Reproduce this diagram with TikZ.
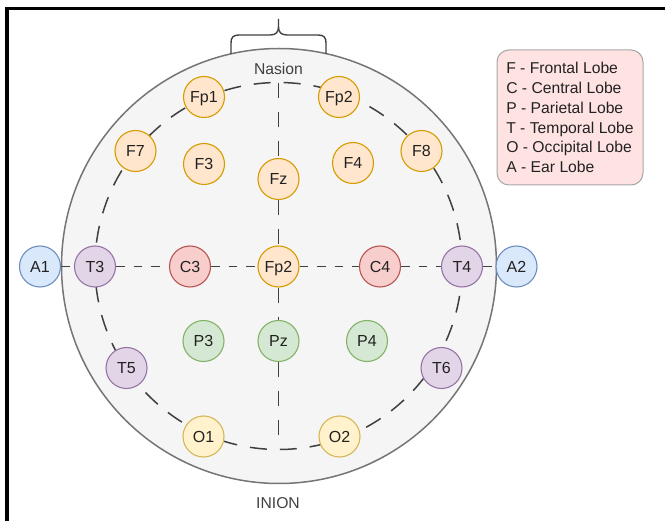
\documentclass[tikz,border=0pt]{standalone}
\usepackage{fontspec}
\setmainfont{Liberation Sans}
\usetikzlibrary{backgrounds}

\definecolor{txt}{HTML}{222222}
\definecolor{headfill}{HTML}{F5F5F5}
\definecolor{headdraw}{HTML}{757575}
\definecolor{guidecol}{HTML}{404040}
\definecolor{frfill}{HTML}{FFE6CC}\definecolor{frdraw}{HTML}{D79B00}
\definecolor{cefill}{HTML}{F8CECC}\definecolor{cedraw}{HTML}{B85450}
\definecolor{pafill}{HTML}{D5E8D4}\definecolor{padraw}{HTML}{82B366}
\definecolor{tefill}{HTML}{E1D5E7}\definecolor{tedraw}{HTML}{9673A6}
\definecolor{ocfill}{HTML}{FFF2CC}\definecolor{ocdraw}{HTML}{D6B656}
\definecolor{eafill}{HTML}{DAE8FC}\definecolor{eadraw}{HTML}{6C8EBF}
\definecolor{legfill}{HTML}{FFE3E3}\definecolor{legdraw}{HTML}{A6A6A6}

\begin{document}
\begin{tikzpicture}[x=1pt,y=-1pt,
  electrode/.style={circle, minimum size=41pt, inner sep=0pt, line width=1.1pt,
    font=\fontsize{16}{18}\selectfont, text=txt, text height=11.5pt, text depth=0pt},
  frontal/.style={electrode, fill=frfill, draw=frdraw},
  central/.style={electrode, fill=cefill, draw=cedraw},
  parietal/.style={electrode, fill=pafill, draw=padraw},
  temporal/.style={electrode, fill=tefill, draw=tedraw},
  occipital/.style={electrode, fill=ocfill, draw=ocdraw},
  ear/.style={electrode, fill=eafill, draw=eadraw},
  guide/.style={draw=guidecol, line width=1.5pt},
  hline/.style={guide, dash pattern=on 8.5pt off 9pt},
  vline/.style={guide, dash pattern=on 15pt off 14pt},
  ringline/.style={guide, dash pattern=on 17pt off 13pt},
  caption/.style={font=\fontsize{15.7}{18}\selectfont, text=guidecol},
]
\useasboundingbox (0,0) rectangle (665,521);

% frame edges
\draw[line width=3.5pt, line join=miter] (7,523) -- (7,8.3) -- (667,8.3);

% electrodes
\node[frontal]   (Fp1) at (204,97)    {Fp1};
\node[frontal]   (Fp2) at (339,97)    {Fp2};
\node[frontal]   (F7)  at (135.5,151) {F7};
\node[frontal]   (F8)  at (421.5,151) {F8};
\node[frontal]   (F3)  at (204,164)   {F3};
\node[frontal]   (F4)  at (353,163)   {F4};
\node[frontal]   (Fz)  at (278.5,179) {Fz};
\node[ear]       (A1)  at (40,266.5)  {A1};
\node[temporal]  (T3)  at (95,266.5)  {T3};
\node[central]   (C3)  at (190,266.5) {C3};
\node[frontal]   (Fc)  at (278.5,266.5) {Fp2};
\node[central]   (C4)  at (380,266.5) {C4};
\node[temporal]  (T4)  at (462,266.5) {T4};
\node[ear]       (A2)  at (516.5,266.5) {A2};
\node[parietal]  (P3)  at (203.5,341) {P3};
\node[parietal]  (Pz)  at (278.5,341) {Pz};
\node[parietal]  (P4)  at (367,341)   {P4};
\node[temporal]  (T5)  at (126.5,368) {T5};
\node[temporal]  (T6)  at (441.5,368) {T6};
\node[occipital] (O1)  at (203.5,436.5) {O1};
\node[occipital] (O2)  at (339.5,436.5) {O2};

\coordinate (vtop) at (278.5,83);
\coordinate (vbot) at (278.5,449);

% landmark captions
\node[caption] (nasion) at (278.5,68.5) {Nasion};
\node[caption] (inion)  at (278,503)    {INION};

% legend
\node[draw=legdraw, fill=legfill, line width=1pt, rounded corners=12pt,
      minimum width=146pt, minimum height=135pt, inner sep=0pt,
      align=left, text=txt, font=\fontsize{15.7}{19.9}\selectfont]
      (legend) at (570,117.5)
      {F - Frontal Lobe\\C - Central Lobe\\P - Parietal Lobe\\T - Temporal Lobe\\O - Occipital Lobe\\A - Ear Lobe};

\begin{pgfonlayer}{background}
  % head outline
  \draw[fill=headfill, draw=headdraw, line width=1.5pt] (279,266) circle[radius=217.5];
  % nasion brace
  \draw[draw=guidecol, line width=1.4pt]
    (231,54) -- (231,43) .. controls (231,37.5) and (233,35) .. (239,35) -- (270,35)
    .. controls (276,35) and (278.5,32) .. (278.5,27) -- (278.5,19);
  \draw[draw=guidecol, line width=1.4pt]
    (326,54) -- (326,43) .. controls (326,37.5) and (324,35) .. (318,35) -- (287,35)
    .. controls (281,35) and (278.5,32) .. (278.5,27);
  % electrode ring
  \draw[ringline] (278.5,266) circle[radius=183.5];
  % midline
  \draw[vline] (vtop) -- (Fz);
  \draw[vline] (Fz) -- (Fc);
  \draw[vline] (Fc) -- (Pz);
  \draw[vline] (Pz) -- (vbot);
  % ear-to-ear line
  \draw[hline] (A1) -- (T3);
  \draw[hline] (T3) -- (C3);
  \draw[hline] (C3) -- (Fc);
  \draw[hline] (Fc) -- (C4);
  \draw[hline] (C4) -- (T4);
  \draw[hline] (T4) -- (A2);
\end{pgfonlayer}
\end{tikzpicture}
\end{document}
